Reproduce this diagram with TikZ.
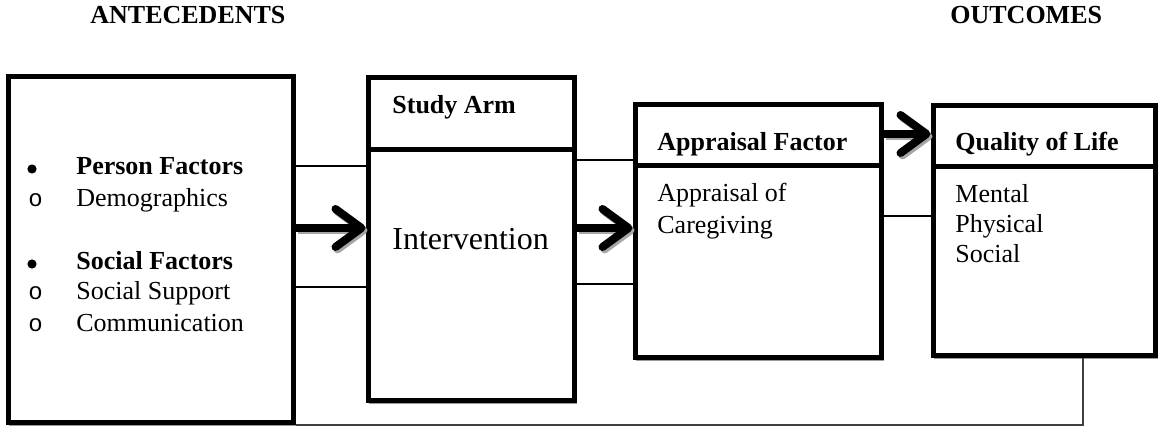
\documentclass[tikz,border=0pt]{standalone}
\usepackage{fontspec}
\setmainfont{Liberation Serif}
\newfontfamily\bulletfont{Liberation Mono}
\usetikzlibrary{arrows.meta,fit}

\begin{document}
\begin{tikzpicture}[x=0.5pt,y=-0.5pt,
  box/.style={draw=black, line width=2.5pt, inner sep=0pt, fill=white},
  boxshadow/.style={draw=black!40, line width=0.6pt, inner sep=0pt},
  divider/.style={line width=2.5pt},
  link/.style={line width=0.9pt},
  loopline/.style={line width=0.7pt, draw=black!75},
  bigarrow/.style={line width=4pt, -{Straight Barb[length=13pt,width=19pt,round]}},
  arrowshadow/.style={bigarrow, draw=black!35, transform canvas={shift={(1pt,-1.2pt)}}},
  txt/.style={anchor=base west, inner sep=0pt, font=\fontsize{13}{15}\selectfont},
  hdr/.style={txt, font=\fontsize{13}{15}\selectfont\bfseries},
  subbullet/.style={txt, font=\fontsize{12}{15}\selectfont\bulletfont},
  dot/.style={circle, fill=black, inner sep=0pt, minimum size=4.6pt},
]
\useasboundingbox (0,0) rectangle (1158,427);

% column titles
\node[hdr] (ant) at (90,24) {ANTECEDENTS};
\node[hdr] (out) at (950,24) {OUTCOMES};

% faint drop shadows behind the boxes
\node[boxshadow, fit={(10,79) (295,425)}] (As) {};
\node[boxshadow, fit={(370,80) (576,403)}] (Ss) {};
\node[boxshadow, fit={(637,107) (883,360)}] (Ps) {};
\node[boxshadow, fit={(935,108) (1157,358)}] (Qs) {};

% boxes
\node[box, fit={(8,77) (293,423)}] (A) {};
\node[box, fit={(368,78) (574,401)}] (S) {};
\node[box, fit={(635,105) (881,358)}] (P) {};
\node[box, fit={(933,106) (1155,356)}] (Q) {};

% header dividers
\draw[divider] (S.west |- 0,150) -- (S.east |- 0,150);
\draw[divider] (P.west |- 0,166) -- (P.east |- 0,166);
\draw[divider] (Q.west |- 0,167) -- (Q.east |- 0,167);

% antecedent list
\node[dot] (b1) at (32,169) {};
\node[hdr] (t1) at (76,175) {Person Factors};
\node[subbullet] (c1) at (28,207) {o};
\node[txt] (t2) at (76,207) {Demographics};
\node[dot] (b2) at (32,264) {};
\node[hdr] (t3) at (76,270) {Social Factors};
\node[subbullet] (c2) at (28,300) {o};
\node[txt] (t4) at (76,300) {Social Support};
\node[subbullet] (c3) at (28,332) {o};
\node[txt] (t5) at (76,332) {Communication};

% study arm
\node[hdr] (sh) at (392,114) {Study Arm};
\node[txt, font=\fontsize{16}{19}\selectfont] (si) at (392,250) {Intervention};

% appraisal
\node[hdr] (ph) at (657,151) {Appraisal Factor};
\node[txt] (p1) at (657,202) {Appraisal of};
\node[txt] (p2) at (657,234) {Caregiving};

% quality of life
\node[hdr] (qh) at (955,151) {Quality of Life};
\node[txt] (q1) at (955,203) {Mental};
\node[txt] (q2) at (955,233) {Physical};
\node[txt] (q3) at (955,263) {Social};

% thin connecting lines
\draw[link] (A.east |- 0,166) -- (S.west |- 0,166);
\draw[link] (A.east |- 0,287) -- (S.west |- 0,287);
\draw[link] (S.east |- 0,160) -- (P.west |- 0,160);
\draw[link] (S.east |- 0,284) -- (P.west |- 0,284);
\draw[link] (P.east |- 0,216) -- (Q.west |- 0,216);

% feedback line from outcomes back to antecedents
\coordinate (fb) at (1083,425);
\draw[loopline] (Q.south -| fb) -- (fb) -- (A.south east |- fb);

% thick arrows with drop shadows
\draw[arrowshadow] (A.east |- 0,228) -- (S.west |- 0,228);
\draw[arrowshadow] (S.east |- 0,228) -- (P.west |- 0,228);
\draw[arrowshadow] (P.east |- 0,134) -- (Q.west |- 0,134);
\draw[bigarrow] (A.east |- 0,228) -- (S.west |- 0,228);
\draw[bigarrow] (S.east |- 0,228) -- (P.west |- 0,228);
\draw[bigarrow] (P.east |- 0,134) -- (Q.west |- 0,134);
\end{tikzpicture}
\end{document}
